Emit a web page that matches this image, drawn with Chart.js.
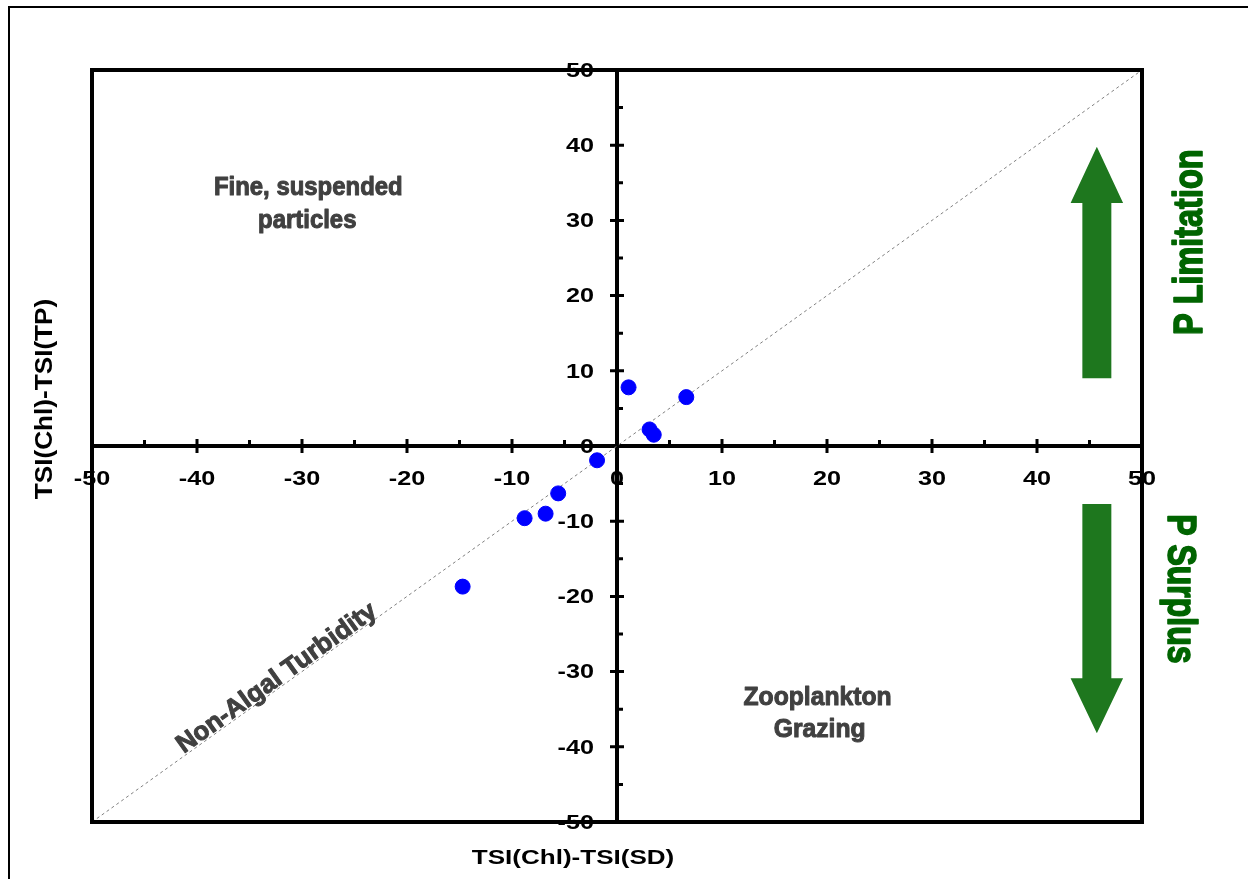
<!DOCTYPE html>
<html>
<head>
<meta charset="utf-8">
<script src="https://cdn.jsdelivr.net/npm/chart.js@4.4.1/dist/chart.umd.min.js"></script>
<style>
  html, body { margin: 0; padding: 0; background: #fff; }
  #wrap { width: 1248px; height: 879px; }
</style>
</head>
<body>
<div id="wrap"><canvas id="tsi"></canvas></div>
<script>
// TSI deviations for each sample
const devSD = [1.1, 6.6, 3.1, 3.5, -1.9, -5.6, -6.8, -8.8, -14.7];   // TSI(Chl)-TSI(SD)
const devTP = [7.8, 6.5, 2.2, 1.5, -1.9, -6.3, -9.0, -9.6, -18.7];   // TSI(Chl)-TSI(TP)

// 1:1 line
const refX = [-50, 50];
const refY = [-50, 50];

const axisTicks = [-50, -40, -30, -20, -10, 0, 10, 20, 30, 40, 50];

const sans = '"Liberation Sans", Arial, sans-serif';

function label(ctx, text, x, y, font, color, angle, sx, align, heavy) {
    ctx.save();
    ctx.translate(x, y);
    ctx.rotate(angle);
    ctx.scale(sx, 1);
    ctx.font = font;
    ctx.fillStyle = color;
    ctx.textAlign = align || 'center';
    ctx.textBaseline = 'middle';
    ctx.fillText(text, 0, 0);
    if (heavy) {
        // thicken the strokes a little
        ctx.strokeStyle = color;
        ctx.lineWidth = heavy;
        ctx.lineJoin = 'round';
        ctx.strokeText(text, 0, 0);
    }
    ctx.restore();
}

function arrow(ctx, xs, ys, cx, tail, headBase, tip) {
    const half = 1.38, headHalf = 2.5;
    const pts = [
        [cx - half, tail], [cx - half, headBase], [cx - headHalf, headBase], [cx, tip],
        [cx + headHalf, headBase], [cx + half, headBase], [cx + half, tail]
    ];
    ctx.beginPath();
    pts.forEach((p, i) => {
        const px = xs.getPixelForValue(p[0]), py = ys.getPixelForValue(p[1]);
        if (i == 0) ctx.moveTo(px, py); else ctx.lineTo(px, py);
    });
    ctx.closePath();
    ctx.fillStyle = '#1e771e';
    ctx.fill();
}

const quadrantDecor = {
    id: 'quadrantDecor',
    beforeDraw(chart) {
        const ctx = chart.ctx;
        ctx.save();
        ctx.strokeStyle = '#000';
        ctx.lineWidth = 2;
        ctx.strokeRect(9, 7, 1400, 1000);
        ctx.restore();
    },
    afterDraw(chart) {
        const ctx = chart.ctx;
        const a = chart.chartArea;
        const xs = chart.scales.x, ys = chart.scales.y;
        const x0 = xs.getPixelForValue(0), y0 = ys.getPixelForValue(0);

        ctx.save();
        // plot frame
        ctx.strokeStyle = '#000';
        ctx.lineWidth = 4;
        ctx.strokeRect(a.left, a.top, a.right - a.left, a.bottom - a.top);

        // tick marks: major cross the axis, minor on one side
        ctx.lineWidth = 3;
        ctx.beginPath();
        axisTicks.forEach((v, i) => {
            const px = xs.getPixelForValue(v), py = ys.getPixelForValue(v);
            if (v != 0 && Math.abs(v) != 50) {
                ctx.moveTo(px, y0 - 7); ctx.lineTo(px, y0 + 7);
                ctx.moveTo(x0 - 7, py); ctx.lineTo(x0 + 7, py);
            }
            if (i < axisTicks.length - 1) {
                const m = (v + axisTicks[i + 1]) / 2;
                const mx = xs.getPixelForValue(m), my = ys.getPixelForValue(m);
                ctx.moveTo(mx, y0); ctx.lineTo(mx, y0 - 6);
                ctx.moveTo(x0, my); ctx.lineTo(x0 + 6, my);
            }
        });
        ctx.stroke();
        ctx.restore();

        // tick labels from the scales' own ticks
        const tf = 'bold 21px ' + sans;
        xs.ticks.forEach(t => label(ctx, String(t.value), xs.getPixelForValue(t.value), y0 + 33, tf, '#000', 0, 1.2));
        ys.ticks.forEach(t => label(ctx, String(t.value), x0 - 23, ys.getPixelForValue(t.value) + 1, tf, '#000', 0, 1.2, 'right'));

        // axis titles
        label(ctx, 'TSI(Chl)-TSI(SD)', 573, 858, 'bold 21px ' + sans, '#000', 0, 1.24);
        label(ctx, 'TSI(Chl)-TSI(TP)', 45, 399, 'bold 24px ' + sans, '#000', -Math.PI / 2, 1.09);

        // quadrant notes
        const grey = '#404040';
        const nf = 'bold 26px ' + sans;
        label(ctx, 'Fine, suspended', xs.getPixelForValue(-29.4), ys.getPixelForValue(34.3), nf, grey, 0, 0.92, 'center', 1);
        label(ctx, 'particles', xs.getPixelForValue(-29.5), ys.getPixelForValue(30.0), nf, grey, 0, 0.92, 'center', 1);
        label(ctx, 'Zooplankton', xs.getPixelForValue(19.1), ys.getPixelForValue(-33.5), nf, grey, 0, 0.95, 'center', 1);
        label(ctx, 'Grazing', xs.getPixelForValue(19.3), ys.getPixelForValue(-37.8), nf, grey, 0, 0.95, 'center', 1);

        const diag = Math.atan2(ys.getPixelForValue(50) - ys.getPixelForValue(-50),
                                xs.getPixelForValue(50) - xs.getPixelForValue(-50));
        label(ctx, 'Non-Algal Turbidity', xs.getPixelForValue(-32.4), ys.getPixelForValue(-30.9), nf, grey, diag, 1.0, 'center', 1);

        // nutrient arrows
        arrow(ctx, xs, ys, 45.7, 9.0, 32.3, 39.8);
        arrow(ctx, xs, ys, 45.7, -7.7, -30.9, -38.2);

        const gf = 'bold 40px ' + sans;
        label(ctx, 'P Limitation', xs.getPixelForValue(54.7), ys.getPixelForValue(27.1), gf, '#006400', -Math.PI / 2, 0.81, 'center', 1.6);
        label(ctx, 'P Surplus', xs.getPixelForValue(53.5), ys.getPixelForValue(-19.0), gf, '#006400', Math.PI / 2, 0.8, 'center', 1.6);
    }
};

const ctx = document.getElementById('tsi').getContext('2d');
new Chart(ctx, {
    type: 'scatter',
    data: {
        datasets: [
            {
                label: 'Samples',
                data: devSD.map((x, i) => ({ x: x, y: devTP[i] })),
                backgroundColor: '#0000ff',
                borderColor: '#0000ff',
                pointRadius: 7.5,
                order: 1
            },
            {
                label: '1:1',
                data: refX.map((x, i) => ({ x: x, y: refY[i] })),
                showLine: true,
                borderColor: '#808080',
                borderWidth: 1,
                borderDash: [3, 3],
                pointRadius: 0,
                order: 2
            }
        ]
    },
    options: {
        responsive: true,
        maintainAspectRatio: false,
        animation: false,
        layout: { padding: { left: 92, top: 70, right: 106, bottom: 57 } },
        plugins: {
            legend: { display: false },
            tooltip: { enabled: false }
        },
        scales: {
            x: {
                type: 'linear',
                position: { y: 0 },
                min: -50,
                max: 50,
                afterBuildTicks: s => { s.ticks = axisTicks.map(v => ({ value: v })); },
                grid: { drawOnChartArea: false, drawTicks: false },
                border: { color: '#000', width: 4 },
                ticks: { display: false }
            },
            y: {
                type: 'linear',
                position: { x: 0 },
                min: -50,
                max: 50,
                afterBuildTicks: s => { s.ticks = axisTicks.map(v => ({ value: v })); },
                grid: { drawOnChartArea: false, drawTicks: false },
                border: { color: '#000', width: 4 },
                ticks: { display: false }
            }
        }
    },
    plugins: [quadrantDecor]
});
</script>
</body>
</html>
